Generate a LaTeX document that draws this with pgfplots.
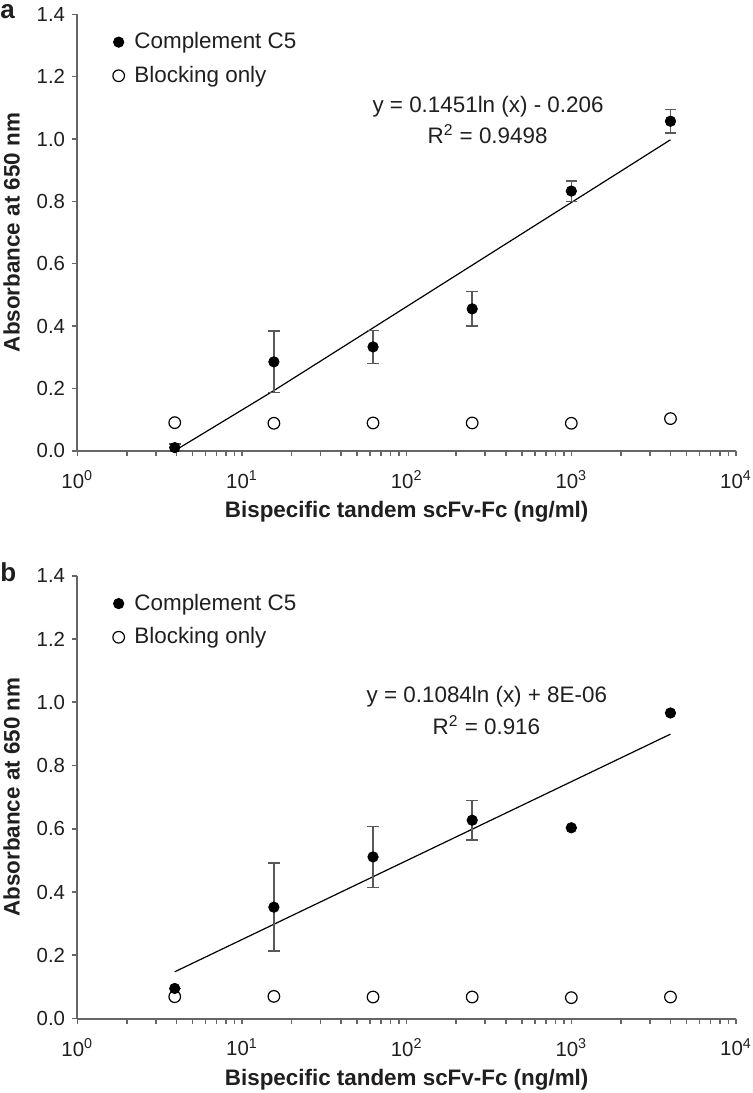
\documentclass[border=0pt]{standalone}
\usepackage{fontspec}
\setmainfont{Liberation Sans}
\usepackage{pgfplots}
\pgfplotsset{compat=1.18}

\definecolor{axisgray}{gray}{0.40}
\definecolor{txt}{gray}{0.12}
\definecolor{errgray}{gray}{0.35}

\pgfplotsset{
  legend image code/.code={\draw[#1] plot coordinates {(0pt,0pt)};},
  every axis/.append style={
    scale only axis, width=329.35pt,
    xmin=1, xmax=10000, ymin=0, ymax=1.4,
    axis lines*=left,
    axis line style={axisgray, line width=1pt},
    tick align=outside, major tick length=2.6pt,
    tick style={axisgray, line width=0.8pt},
    xtick={1,10,100,1000,10000},
    xticklabels={10\textsuperscript{0},10\textsuperscript{1},10\textsuperscript{2},10\textsuperscript{3},10\textsuperscript{4}},
    extra x ticks={2,3,4,5,6,7,8,9,20,30,40,50,60,70,80,90,200,300,400,500,600,700,800,900,2000,3000,4000,5000,6000,7000,8000,9000},
    extra x tick labels={},
    extra x tick style={major tick length=2.2pt},
    ytick={0,0.2,0.4,0.6,0.8,1.0,1.2,1.4},
    yticklabels={0.0,0.2,0.4,0.6,0.8,1.0,1.2,1.4},
    tick label style={font=\fontsize{10.2}{12}\selectfont, text=txt},
    xticklabel style={yshift=-4pt},
    ylabel style={at={(axis description cs:-0.0996,0.5)}, anchor=center,
      font=\bfseries\fontsize{11.2}{13}\selectfont, text=txt},
    legend cell align=left,
    legend style={draw=none, fill=none, inner sep=0pt, outer sep=0pt,
      anchor=west, row sep=7.2pt, column sep=5pt,
      font=\fontsize{11.2}{13}\selectfont, text=txt,
      nodes={inner sep=0pt, outer sep=0pt}},
    clip=false,
  },
}

\begin{document}
\begin{tikzpicture}
\useasboundingbox (0,0) rectangle (376.5pt,-546.5pt);

% ---------- panel a ----------
\begin{semilogxaxis}[height=218.2pt, at={(38.65pt,-225.35pt)}, anchor=south west,
  ylabel={Absorbance at 650 nm},
  legend style={at={(axis description cs:0.054,0.8977)}}]
\addplot[black, line width=0.6pt, no marks, forget plot] coordinates {
  (3.90625,0) (15.625,0.1929) (62.5,0.3940) (250,0.5952) (1000,0.7963) (4000,0.9975)};
\addplot[only marks, mark=*, mark size=2.6pt, black,
    error bars/.cd, y dir=both, y explicit,
    error bar style={errgray, line width=0.75pt},
    error mark options={rotate=90, mark size=2.9pt, errgray, line width=0.75pt}]
  coordinates {
  (3.90625,0.010) +- (0,0.012)
  (15.625,0.285) +- (0,0.099)
  (62.5,0.333) +- (0,0.053)
  (250,0.455) +- (0,0.055)
  (1000,0.833) +- (0,0.033)
  (4000,1.057) +- (0,0.037)};
\addlegendentry{Complement C5}
\addplot[only marks, mark=o, mark size=2.9pt, black, mark options={fill=white, line width=0.6pt}] coordinates {
  (3.90625,0.090) (15.625,0.088) (62.5,0.089) (250,0.089) (1000,0.088) (4000,0.103)};
\addlegendentry{Blocking only}
\node[font=\fontsize{11.2}{13}\selectfont, text=txt] at (axis cs:312,1.102) {y = 0.1451ln (x) - 0.206};
\node[font=\fontsize{11.2}{13}\selectfont, text=txt] at (axis cs:310,1.017) {R\textsuperscript{2} = 0.9498};
\node[anchor=center, font=\bfseries\fontsize{11.2}{13}\selectfont, text=txt] at (axis description cs:0.5,-0.1398) {Bispecific tandem scFv-Fc (ng/ml)};
\end{semilogxaxis}

% ---------- panel b ----------
\begin{semilogxaxis}[height=221.4pt, at={(38.65pt,-509.25pt)}, anchor=south west,
  ylabel={Absorbance at 650 nm},
  legend style={at={(axis description cs:0.054,0.899)}}]
\addplot[black, line width=0.6pt, no marks, forget plot] coordinates {
  (3.90625,0.1477) (15.625,0.2980) (62.5,0.4483) (250,0.5985) (1000,0.7488) (4000,0.8991)};
\addplot[only marks, mark=*, mark size=2.6pt, black,
    error bars/.cd, y dir=both, y explicit,
    error bar style={errgray, line width=0.75pt},
    error mark options={rotate=90, mark size=2.9pt, errgray, line width=0.75pt}]
  coordinates {
  (3.90625,0.095) +- (0,0.0)
  (15.625,0.352) +- (0,0.139)
  (62.5,0.511) +- (0,0.096)
  (250,0.627) +- (0,0.063)
  (1000,0.603) +- (0,0.0)
  (4000,0.966) +- (0,0.0)};
\addlegendentry{Complement C5}
\addplot[only marks, mark=o, mark size=2.9pt, black, mark options={fill=white, line width=0.6pt}] coordinates {
  (3.90625,0.069) (15.625,0.070) (62.5,0.068) (250,0.068) (1000,0.066) (4000,0.068)};
\addlegendentry{Blocking only}
\node[font=\fontsize{11.2}{13}\selectfont, text=txt] at (axis cs:307,1.018) {y = 0.1084ln (x) + 8E-06};
\node[font=\fontsize{11.2}{13}\selectfont, text=txt] at (axis cs:305,0.929) {R\textsuperscript{2} = 0.916};
\node[anchor=center, font=\bfseries\fontsize{11.2}{13}\selectfont, text=txt] at (axis description cs:0.5,-0.1378) {Bispecific tandem scFv-Fc (ng/ml)};
\end{semilogxaxis}

\node[anchor=base west, inner sep=0pt, font=\bfseries\fontsize{13}{15}\selectfont, text=txt] at (0pt,-9pt) {a};
\node[anchor=base west, inner sep=0pt, font=\bfseries\fontsize{13}{15}\selectfont, text=txt] at (0pt,-290.85pt) {b};
\end{tikzpicture}
\end{document}
